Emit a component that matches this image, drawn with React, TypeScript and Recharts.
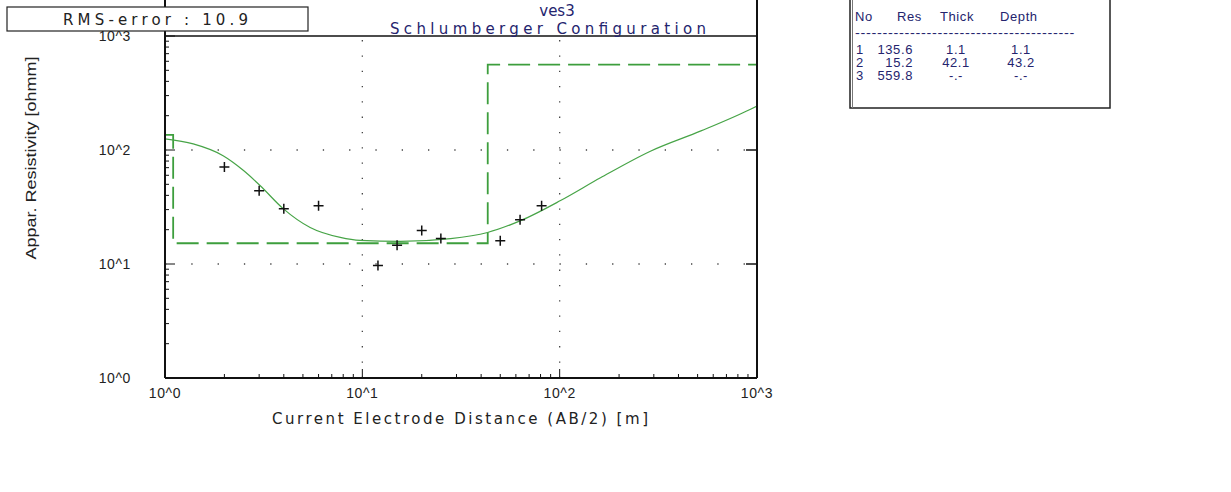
import React from "react";
import {
  ComposedChart,
  Line,
  ReferenceLine,
  Scatter,
  XAxis,
  YAxis,
} from "recharts";

// axis ticks (log decades + minor ticks)
const majorTicks = [1, 10, 100, 1000];
const minorTicks = [
  2, 3, 4, 5, 6, 7, 8, 9, 20, 30, 40, 50, 60, 70, 80, 90, 200, 300, 400, 500,
  600, 700, 800, 900,
];
const gridTicks = [10, 100];

// field measurements (AB/2 in m, apparent resistivity in ohm-m)
const fieldAb2 = [2.0, 3.0, 4.0, 6.0, 12, 15, 20, 25, 50, 63, 81];
const fieldRho = [71, 44, 30.6, 32.5, 9.7, 14.6, 19.7, 16.7, 16, 24.5, 32.5];

// calculated sounding curve
const curveAb2 = [
  1, 1.39, 1.97, 2.5, 3.04, 3.97, 5.44, 7.73, 9.77, 15.6, 28, 43.1, 63.4, 101,
  161, 290, 520, 933, 1000,
];
const curveRho = [
  125, 113, 89, 66, 48.6, 30.6, 20.9, 17.1, 16.1, 15.8, 16.7, 18.9, 24, 36, 57,
  98, 147, 229, 243,
];

// layered model
const layerNo = [1, 2, 3];
const layerRes = [135.6, 15.2, 559.8];
const layerThick = [1.1, 42.1, null];
const layerDepth = [1.1, 43.2, null];
const rmsError = 10.9;

const fieldData = fieldAb2.map((ab2, i) => ({ ab2, rho: fieldRho[i] }));
const curveData = curveAb2.map((ab2, i) => ({ ab2, rho: curveRho[i] }));

function buildModel() {
  const pts: { ab2: number; rho: number }[] = [];
  let x0 = 1;
  layerRes.forEach((res, i) => {
    const depth = layerDepth[i];
    const x1 = depth == null ? 1000 : depth;
    pts.push({ ab2: x0, rho: res });
    pts.push({ ab2: x1, rho: res });
    x0 = x1;
  });
  return pts;
}
const modelData = buildModel();

const fmtPow = (v: number) => `10^${Math.round(Math.log10(v))}`;
const fmtNum = (v: number | null) => (v == null ? "-.-" : v.toFixed(1));

const sans = "Liberation Sans, Arial, sans-serif";
const wide = "DejaVu Sans, Verdana, sans-serif";
const navy = "#24246e";

const tickFont = {
  fontFamily: sans,
  fontSize: 14,
  fill: "#222",
  letterSpacing: 0.6,
};

function BottomTick(props: any) {
  const { x, y, payload } = props;
  const major = majorTicks.includes(payload.value);
  return (
    <g>
      <line x1={x} x2={x} y1={y} y2={y - (major ? 9 : 4)} stroke="#111" strokeWidth={1} />
      {major && (
        <text x={x} y={y + 20} textAnchor="middle" {...tickFont}>
          {fmtPow(payload.value)}
        </text>
      )}
    </g>
  );
}

function LeftTick(props: any) {
  const { x, y, payload } = props;
  const major = majorTicks.includes(payload.value);
  return (
    <g>
      <line x1={x} x2={x + (major ? 10 : 4)} y1={y} y2={y} stroke="#111" strokeWidth={1} />
      {major && (
        <text x={x - 34} y={y + 5} textAnchor="end" {...tickFont}>
          {fmtPow(payload.value)}
        </text>
      )}
    </g>
  );
}

function RightTick(props: any) {
  const { x, y } = props;
  return <line x1={x} x2={x - 11} y1={y} y2={y} stroke="#111" strokeWidth={1.5} />;
}

function Cross(props: any) {
  const { cx, cy } = props;
  if (cx == null || cy == null) return null;
  return (
    <path
      d={`M${cx - 5},${cy}h10M${cx},${cy - 5}v10`}
      stroke="#111"
      strokeWidth={1.5}
      fill="none"
    />
  );
}

export default function App() {
  return (
    <div style={{ position: "absolute", left: 0, top: 0, width: 1231, height: 492, background: "#fff" }}>
      <ComposedChart
        width={1231}
        height={492}
        margin={{ top: 36, right: 464, bottom: 84, left: 105 }}
      >
        <XAxis
          xAxisId="x"
          dataKey="ab2"
          type="number"
          scale="log"
          domain={[1, 1000]}
          allowDataOverflow
          ticks={[...majorTicks, ...minorTicks].sort((a, b) => a - b)}
          interval={0}
          tickLine={false}
          tickSize={0}
          tickMargin={0}
          tick={<BottomTick />}
          axisLine={{ stroke: "#111", strokeWidth: 2 }}
          height={30}
        />
        <YAxis
          yAxisId="y"
          dataKey="rho"
          type="number"
          scale="log"
          domain={[1, 1000]}
          allowDataOverflow
          ticks={[...majorTicks, ...minorTicks].sort((a, b) => a - b)}
          interval={0}
          tickLine={false}
          tickSize={0}
          tickMargin={0}
          tick={<LeftTick />}
          axisLine={{ stroke: "#111", strokeWidth: 2 }}
          width={60}
        />
        <YAxis
          yAxisId="r"
          orientation="right"
          type="number"
          scale="log"
          domain={[1, 1000]}
          allowDataOverflow
          ticks={gridTicks}
          interval={0}
          tickLine={false}
          tickSize={0}
          tickMargin={0}
          tick={<RightTick />}
          axisLine={{ stroke: "#111", strokeWidth: 2 }}
          width={10}
        />
        {gridTicks.map((v) => (
          <ReferenceLine
            key={`gx${v}`}
            xAxisId="x"
            yAxisId="y"
            x={v}
            stroke="#444"
            strokeWidth={1.3}
            strokeDasharray="1.3 14"
          />
        ))}
        {gridTicks.map((v) => (
          <ReferenceLine
            key={`gy${v}`}
            xAxisId="x"
            yAxisId="y"
            y={v}
            stroke="#444"
            strokeWidth={1.3}
            strokeDasharray="1.3 25"
          />
        ))}
        <ReferenceLine xAxisId="x" yAxisId="y" y={1000} stroke="#111" strokeWidth={1.5} />
        <Line
          xAxisId="x"
          yAxisId="y"
          data={modelData}
          dataKey="rho"
          type="linear"
          stroke="#3d9e3d"
          strokeWidth={1.8}
          strokeDasharray="22 8"
          dot={false}
          isAnimationActive={false}
        />
        <Line
          xAxisId="x"
          yAxisId="y"
          data={curveData}
          dataKey="rho"
          type="monotone"
          stroke="#47a447"
          strokeWidth={1.2}
          dot={false}
          isAnimationActive={false}
        />
        <Scatter
          xAxisId="x"
          yAxisId="y"
          data={fieldData}
          dataKey="rho"
          shape={<Cross />}
          isAnimationActive={false}
        />
      </ComposedChart>

      <svg
        width={1231}
        height={492}
        style={{ position: "absolute", left: 0, top: 0, pointerEvents: "none" }}
      >
        {/* frame extensions above plot */}
        <line x1={165} x2={165} y1={0} y2={36} stroke="#111" strokeWidth={2} />
        <line x1={757} x2={757} y1={0} y2={36} stroke="#111" strokeWidth={2} />

        {/* RMS box */}
        <rect x={7} y={7} width={301} height={24} fill="#fff" stroke="#222" strokeWidth={1.2} />
        <text x={63} y={25} fontFamily={wide} fontSize={15} fill="#222" textLength={185} lengthAdjust="spacing">
          {`RMS-error :  ${rmsError}`}
        </text>

        {/* title */}
        <text x={557} y={16} textAnchor="middle" fontFamily={wide} fontSize={15} fill={navy}>
          ves3
        </text>
        <text x={548} y={34} textAnchor="middle" fontFamily={wide} fontSize={15} fill={navy} textLength={316} lengthAdjust="spacing">
          Schlumberger Configuration
        </text>

        {/* axis titles */}
        <text
          x={460}
          y={424}
          textAnchor="middle"
          fontFamily={wide}
          fontSize={15}
          fill="#222"
          textLength={376}
          lengthAdjust="spacing"
        >
          Current Electrode Distance (AB/2) [m]
        </text>
        <text
          transform="translate(36,158) rotate(-90)"
          textAnchor="middle"
          fontFamily={sans}
          fontSize={15}
          fill="#222"
          textLength={203}
          lengthAdjust="spacingAndGlyphs"
        >
          Appar. Resistivity [ohmm]
        </text>

        {/* layer table */}
        <rect x={850} y={-2} width={260} height={110} fill="none" stroke="#222" strokeWidth={1.5} />
        <line x1={852.5} x2={852.5} y1={0} y2={108} stroke="#777" strokeWidth={1} />
        <g fontFamily={sans} fontSize={13} fill={navy} letterSpacing={0.6}>
          <text x={855} y={21}>No</text>
          <text x={897} y={21}>Res</text>
          <text x={940} y={21}>Thick</text>
          <text x={1000} y={21}>Depth</text>
          <text x={855} y={37} textLength={220} lengthAdjust="spacingAndGlyphs">
            ----------------------------------------
          </text>
          {layerNo.map((n, i) => (
            <g key={n}>
              <text x={856} y={54 + i * 13}>{n}</text>
              <text x={913} y={54 + i * 13} textAnchor="end">{fmtNum(layerRes[i])}</text>
              <text x={956} y={54 + i * 13} textAnchor="middle">{fmtNum(layerThick[i])}</text>
              <text x={1021} y={54 + i * 13} textAnchor="middle">{fmtNum(layerDepth[i])}</text>
            </g>
          ))}
        </g>
      </svg>
    </div>
  );
}
